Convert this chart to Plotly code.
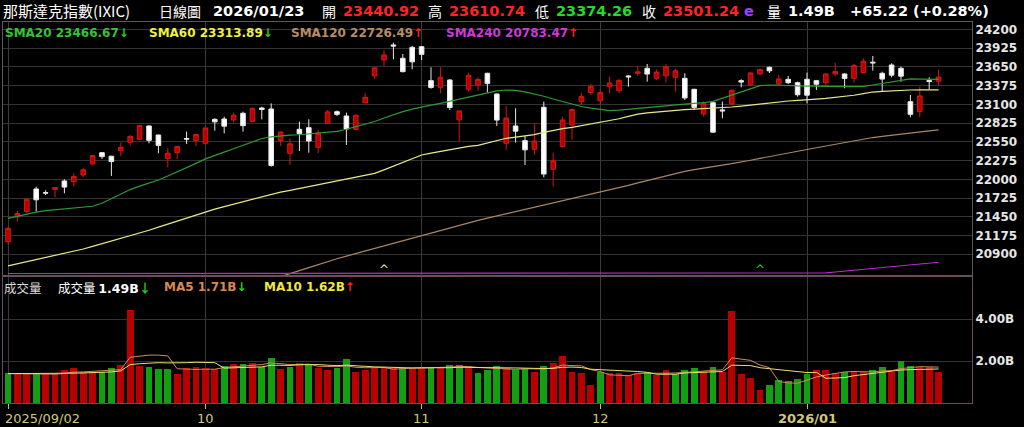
import plotly.graph_objects as go
from plotly.subplots import make_subplots

# ---- 那斯達克指數 日線 2025/09/02 ~ 2026/01/23 (100 個交易日) ----
opens = [21086, 21450, 21526, 21859, 21805, 21850, 21976, 21966, 22064, 22226,
         22392, 22340, 22422, 22544, 22588, 22784, 22651, 22309, 22392, 22600,
         22568, 22529, 22881, 22886, 22872, 22970, 22847, 23048, 23033, 22568,
         22382, 22735, 22759, 22470, 22823, 22994, 22930, 22735, 23126, 23518,
         23752, 23973, 23777, 23938, 23948, 23449, 23351, 23459, 22872, 23322,
         23385, 23557, 23253, 22529, 22784, 22568, 22441, 23058, 22148, 22480,
         22798, 23141, 23273, 23155, 23361, 23302, 23518, 23557, 23630, 23483,
         23518, 23498, 23483, 23322, 22960, 23126, 23020, 23107, 23449, 23385,
         23547, 23645, 23400, 23469, 23420, 23469, 23449, 23420, 23547, 23547,
         23483, 23567, 23720, 23557, 23679, 23630, 23141, 22994, 23450, 23440.92]
highs = [21306, 21540, 21720, 21893, 21840, 21880, 22001, 22090, 22170, 22360,
         22402, 22345, 22539, 22650, 22800, 22790, 22655, 22456, 22490, 22700,
         22665, 22760, 22896, 22920, 22980, 22994, 23050, 23067, 23116, 22700,
         22600, 22847, 22881, 22725, 23020, 23010, 22979, 22950, 23263, 23645,
         23899, 24007, 23840, 23958, 23958, 23645, 23645, 23470, 23010, 23566,
         23498, 23565, 23260, 23077, 23043, 22637, 22823, 23141, 22392, 22920,
         23043, 23273, 23400, 23322, 23508, 23470, 23530, 23664, 23694, 23615,
         23694, 23620, 23557, 23330, 23141, 23130, 23141, 23320, 23469, 23575,
         23625, 23655, 23532, 23518, 23435, 23567, 23460, 23557, 23713, 23557,
         23694, 23777, 23811, 23581, 23704, 23655, 23239, 23361, 23498, 23610.74]
lows = [21051, 21380, 21500, 21526, 21770, 21737, 21795, 21893, 22030, 22220,
        22300, 22050, 22343, 22490, 22580, 22529, 22382, 22177, 22294, 22520,
        22490, 22520, 22715, 22676, 22833, 22700, 22840, 22881, 22187, 22490,
        22211, 22417, 22392, 22382, 22820, 22930, 22505, 22720, 23116, 23469,
        23664, 23762, 23570, 23615, 23752, 23330, 23263, 23018, 22554, 23288,
        23302, 23273, 22784, 22431, 22539, 22211, 22358, 22030, 21893, 22470,
        22578, 23092, 23240, 23092, 23263, 23263, 23361, 23518, 23434, 23460,
        23420, 23288, 23165, 23020, 22921, 22680, 22896, 23100, 23351, 23370,
        23530, 23560, 23385, 23400, 23214, 23116, 23312, 23371, 23518, 23337,
        23420, 23557, 23596, 23288, 23498, 23434, 22911, 22911, 23322, 23374.26]
closes = [21280, 21498, 21708, 21700, 21799, 21879, 21886, 22043, 22141, 22349,
          22334, 22261, 22471, 22631, 22789, 22573, 22498, 22385, 22484, 22591,
          22660, 22755, 22844, 22781, 22942, 22788, 23043, 23025, 22204, 22695,
          22522, 22670, 22563, 22680, 22991, 22954, 22740, 22942, 23205, 23637,
          23827, 23958, 23581, 23725, 23835, 23349, 23500, 23054, 23005, 23527,
          23468, 23406, 22870, 22901, 22708, 22433, 22564, 22078, 22273, 22872,
          23026, 23215, 23366, 23276, 23414, 23454, 23505, 23578, 23546, 23576,
          23654, 23594, 23195, 23057, 23111, 22693, 23006, 23308, 23429, 23562,
          23613, 23593, 23474, 23419, 23242, 23236, 23396, 23547, 23584, 23480,
          23671, 23734, 23710, 23472, 23530, 23515, 22954, 23225, 23436.02, 23501.24]

sma20 = [21428, 21460, 21490, 21520, 21540, 21555, 21570, 21580, 21590, 21605,
         21650, 21720, 21790, 21850, 21900, 21945, 21990, 22050, 22110, 22165,
         22235, 22300, 22355, 22400, 22450, 22500, 22550, 22600, 22625, 22640,
         22648, 22655, 22665, 22680, 22690, 22705, 22735, 22770, 22810, 22850,
         22900, 22950, 22995, 23030, 23065, 23090, 23115, 23145, 23175, 23210,
         23240, 23270, 23300, 23312, 23305, 23285, 23255, 23220, 23180, 23140,
         23100, 23070, 23045, 23025, 23010, 23015, 23030, 23045, 23060, 23070,
         23080, 23092, 23100, 23110, 23125, 23145, 23190, 23240, 23290, 23335,
         23375, 23385, 23385, 23378, 23372, 23368, 23365, 23362, 23360, 23360,
         23362, 23365, 23385, 23410, 23435, 23460, 23475, 23472, 23468, 23466.67]
sma60 = [20729, 20760, 20790, 20820, 20850, 20880, 20910, 20940, 20978, 21016,
         21054, 21092, 21130, 21170, 21208, 21253, 21298, 21343, 21390, 21435,
         21480, 21526, 21563, 21600, 21637, 21674, 21711, 21748, 21785, 21812,
         21839, 21866, 21893, 21920, 21947, 21974, 22001, 22030, 22060, 22089,
         22140, 22195, 22250, 22305, 22358, 22385, 22412, 22438, 22462, 22485,
         22500, 22535, 22570, 22603, 22620, 22640, 22658, 22690, 22720, 22745,
         22764, 22788, 22810, 22832, 22855, 22890, 22925, 22958, 22975, 22990,
         23005, 23016, 23025, 23032, 23038, 23043, 23052, 23062, 23075, 23090,
         23105, 23122, 23140, 23150, 23158, 23165, 23178, 23190, 23203, 23215,
         23235, 23258, 23282, 23293, 23302, 23310, 23312, 23313, 23313, 23313.89]
sma120 = [None] * 28 + [
         20530, 20570, 20615, 20660, 20705, 20750, 20795, 20835, 20873, 20911,
         20949, 20987, 21025, 21063, 21100, 21138, 21176, 21214, 21252, 21290,
         21328, 21365, 21398, 21430, 21462, 21494, 21526, 21558, 21590, 21621,
         21652, 21683, 21714, 21745, 21776, 21807, 21840, 21876, 21912, 21948,
         21984, 22020, 22056, 22092, 22118, 22143, 22168, 22190, 22210, 22230,
         22252, 22280, 22308, 22336, 22360, 22386, 22412, 22438, 22464, 22490,
         22518, 22546, 22570, 22592, 22614, 22632, 22650, 22668, 22686, 22699,
         22712, 22726.49]
# SMA240 在畫面底部被壓在下緣，直到 1 月初才出現
sma240 = [20618] * 86 + [20620, 20626, 20640, 20653, 20666, 20679, 20692,
                         20705, 20718, 20731, 20744, 20757, 20770, 20783.47]

volumes = [1.44, 1.36, 1.36, 1.41, 1.36, 1.36, 1.55, 1.65, 1.49, 1.49,
           1.49, 1.65, 1.81, 4.45, 1.78, 1.73, 1.62, 1.62, 1.39, 1.65,
           1.73, 1.65, 1.62, 1.78, 1.86, 1.86, 1.92, 1.73, 2.16, 1.62,
           1.73, 1.89, 1.84, 1.68, 1.57, 1.68, 2.08, 1.49, 1.57, 1.68,
           1.65, 1.68, 1.65, 1.65, 1.68, 1.68, 1.73, 1.81, 1.81, 1.68,
           1.44, 1.57, 1.76, 1.65, 1.57, 1.60, 1.49, 1.78, 1.92, 2.24,
           1.49, 1.44, 0.88, 1.46, 1.41, 1.44, 1.33, 1.41, 1.46, 1.33,
           1.57, 1.36, 1.57, 1.65, 1.49, 1.70, 1.49, 4.40, 1.36, 1.20,
           0.61, 0.85, 1.09, 1.04, 1.12, 1.36, 1.57, 1.57, 1.44, 1.46,
           1.46, 1.46, 1.57, 1.70, 1.49, 2.00, 1.76, 1.73, 1.73, 1.49]
# r = 上漲(紅), g = 下跌(綠)
vol_dir = ("grrgrrrrrr" "ggrrrgggrr" "rrrgrgrggr" "grgrrggrrr" "rrgrrgrggr"
           "gggrggrgrr" "rrrgrrrrgr" "rgggrgrrrr" "rgggggrrrg" "rrggrggrrr")
vol_ma5 = [1.40, 1.39, 1.38, 1.39, 1.39, 1.37, 1.41, 1.47, 1.48, 1.51,
           1.53, 1.55, 1.59, 2.18, 2.24, 2.28, 2.28, 2.24, 1.63, 1.60,
           1.60, 1.61, 1.61, 1.69, 1.73, 1.75, 1.81, 1.83, 1.91, 1.86,
           1.83, 1.83, 1.85, 1.75, 1.74, 1.73, 1.77, 1.70, 1.68, 1.70,
           1.69, 1.61, 1.65, 1.66, 1.66, 1.67, 1.68, 1.71, 1.74, 1.74,
           1.69, 1.66, 1.65, 1.62, 1.60, 1.63, 1.61, 1.62, 1.67, 1.81,
           1.78, 1.77, 1.59, 1.50, 1.34, 1.33, 1.30, 1.41, 1.41, 1.39,
           1.42, 1.43, 1.46, 1.50, 1.53, 1.55, 1.58, 2.15, 2.09, 2.03,
           1.81, 1.68, 1.02, 0.96, 0.94, 1.09, 1.24, 1.33, 1.41, 1.48,
           1.50, 1.48, 1.48, 1.53, 1.54, 1.64, 1.70, 1.73, 1.72, 1.71]
vol_ma10 = [1.40, 1.40, 1.39, 1.39, 1.39, 1.39, 1.40, 1.42, 1.43, 1.45,
            1.45, 1.48, 1.53, 1.83, 1.87, 1.91, 1.92, 1.91, 1.90, 1.92,
            1.94, 1.94, 1.92, 1.66, 1.67, 1.68, 1.71, 1.72, 1.80, 1.79,
            1.79, 1.82, 1.84, 1.83, 1.80, 1.78, 1.80, 1.77, 1.72, 1.72,
            1.71, 1.69, 1.67, 1.67, 1.68, 1.68, 1.65, 1.68, 1.70, 1.70,
            1.68, 1.67, 1.68, 1.68, 1.67, 1.66, 1.64, 1.64, 1.65, 1.70,
            1.71, 1.69, 1.61, 1.59, 1.57, 1.56, 1.54, 1.50, 1.46, 1.37,
            1.37, 1.37, 1.43, 1.45, 1.46, 1.49, 1.50, 1.80, 1.79, 1.78,
            1.68, 1.63, 1.58, 1.52, 1.49, 1.45, 1.46, 1.18, 1.19, 1.21,
            1.30, 1.36, 1.41, 1.47, 1.51, 1.57, 1.59, 1.61, 1.63, 1.62]

month_idx = [0, 21, 44, 63, 85]
month_text = ["2025/09/02", "10", "11", "12", "2026/01"]
price_ticks = [20900, 21175, 21450, 21725, 22000, 22275, 22550, 22825,
               23100, 23375, 23650, 23925, 24200]
vol_ticks = [2, 4]
# 扣抵位置 (SMA60, SMA20)
deduct_idx = [40, 80]

# ---- 版面 ----
W, H = 1024, 427
ML, MR, MT, MB = 3, 52, 22, 24
PW, PH = W - ML - MR, H - MT - MB
STEP, X0 = 9.4, 8          # 每根 K 棒的 px 間距, 第一根的 px 位置

RED, WHITE, GREEN = "#b80000", "#ffffff", "#12a012"
FONT = "DejaVu Sans"
CJK = "Noto Sans CJK TC"


def px(x):
    return (x - ML) / PW


def py(y):
    return (H - MB - y) / PH


n = len(closes)
idx = list(range(n))

fig = make_subplots(rows=2, cols=1, shared_xaxes=True)

fig.add_trace(go.Candlestick(
    x=idx, open=opens, high=highs, low=lows, close=closes,
    increasing=dict(line=dict(color="#d01818", width=1), fillcolor=RED),
    decreasing=dict(line=dict(color="#e8e8e8", width=1), fillcolor=WHITE),
    whiskerwidth=0, hoverinfo="skip", showlegend=False,
), row=1, col=1)

ma_styles = [(sma20, "#2f9a35"), (sma60, "#e8e88c"),
             (sma120, "#a88666"), (sma240, "#b030c8")]
for vals, color in ma_styles:
    fig.add_scatter(x=idx, y=vals, mode="lines", line=dict(color=color, width=1.2),
                    hoverinfo="skip", showlegend=False, row=1, col=1)

fig.add_bar(x=idx, y=volumes, width=0.74,
            marker=dict(color=[RED if d == "r" else GREEN for d in vol_dir], line_width=0),
            hoverinfo="skip", showlegend=False, row=2, col=1)
fig.add_scatter(x=idx, y=vol_ma5, mode="lines", line=dict(color="#d08a58", width=1),
                hoverinfo="skip", showlegend=False, row=2, col=1)
fig.add_scatter(x=idx, y=vol_ma10, mode="lines", line=dict(color="#e8e070", width=1),
                hoverinfo="skip", showlegend=False, row=2, col=1)

x_range = [(ML - X0) / STEP, (ML + PW - X0) / STEP]
grid = "#333333"

fig.update_xaxes(range=x_range, tickvals=month_idx, showticklabels=False,
                 showgrid=True, gridcolor="#3a3a3a", gridwidth=1, zeroline=False,
                 rangeslider_visible=False)
fig.update_xaxes(showline=True, mirror=True, linecolor="#5a5a5a", row=1, col=1)
fig.update_xaxes(showline=True, mirror=True, linecolor="#6c4a60",
                 ticks="outside", ticklen=5, tickcolor="#c8c07a", row=2, col=1)

tickfont = dict(family=FONT, size=12, color="#e6e6e6", weight="bold")
fig.update_yaxes(side="right", range=[20596, 24310], tickvals=price_ticks,
                 ticktext=[str(v) for v in price_ticks],
                 showgrid=True, gridcolor=grid, zeroline=False, tickfont=tickfont,
                 showline=True, mirror=True, linecolor="#5a5a5a",
                 domain=[py(275), 1], row=1, col=1)
fig.update_yaxes(side="right", range=[0, 6.0], tickvals=vol_ticks,
                 ticktext=[f"{v:.2f}B" for v in vol_ticks],
                 showgrid=True, gridcolor=grid, zeroline=False, tickfont=tickfont,
                 showline=True, mirror=True, linecolor="#6c4a60",
                 domain=[0, py(277)], row=2, col=1)

ann = []


def txt(x, y, text, size, color="#ffffff", family=FONT, anchor="left"):
    ann.append(dict(x=px(x), y=py(y), xref="paper", yref="paper", text=text,
                    showarrow=False, xanchor=anchor, yanchor="middle",
                    font=dict(family=family, size=size, color=color)))


UP = '<span style="color:#ff2020"><b>↑</b></span>'
DN = '<span style="color:#22cc22"><b>↓</b></span>'

# 標題列
chg = closes[-1] - closes[-2]
header = [
    (1, "那斯達克指數(IXIC)", 15, "#ffffff", CJK),
    (157, "日線圖", 14, "#ffffff", CJK),
    (211, "<b>2026/01/23</b>", 14.5, "#ffffff", FONT),
    (320, "開", 14, "#ffffff", CJK),
    (341, f"<b>{opens[-1]:.2f}</b>", 14.5, "#ff2424", FONT),
    (426, "高", 14, "#ffffff", CJK),
    (447, f"<b>{highs[-1]:.2f}</b>", 14.5, "#ff2424", FONT),
    (533, "低", 14, "#ffffff", CJK),
    (554, f"<b>{lows[-1]:.2f}</b>", 14.5, "#22dd22", FONT),
    (640, "收", 14, "#ffffff", CJK),
    (661, f"<b>{closes[-1]:.2f}</b>", 14.5, "#ff2424", FONT),
    (742, "<b>e</b>", 14.5, "#a040ff", FONT),
    (765, "量", 14, "#ffffff", CJK),
    (786, f"<b>{volumes[-1]:.2f}B</b>", 14.5, "#ffffff", FONT),
    (848, f"<b>{chg:+.2f} ({chg / closes[-2] * 100:+.2f}%)</b>", 14.5, "#ffffff", FONT),
]
for x, t, s, c, f in header:
    txt(x, 11, t, s, c, f)

# 均線圖例
legend = [
    (3, "SMA20", sma20, "#33c433", DN),
    (147, "SMA60", sma60, "#f0f040", DN),
    (289, "SMA120", sma120, "#b88c66", UP),
    (444, "SMA240", sma240, "#cc3ad8", UP),
]
for x, name, vals, c, arrow in legend:
    txt(x, 33, f"<b>{name} {vals[-1]:.2f}</b>{arrow}", 12, c)

# 成交量圖例
txt(2, 287, "成交量", 12.5, "#d8d8d8", CJK)
txt(56, 287, f'成交量 <span style="font-family:{FONT}"><b>{volumes[-1]:.2f}B</b></span>{DN}',
    12.5, "#ffffff", CJK)
txt(162, 287, f"<b>MA5 {vol_ma5[-1]:.2f}B</b>{DN}", 12, "#d88850")
txt(262, 287, f"<b>MA10 {vol_ma10[-1]:.2f}B</b>{UP}", 12, "#f0e840")

# X 軸月份
for i, t in zip(month_idx, month_text):
    x = X0 + STEP * i
    if i == 0:
        txt(x - 5, 418, t, 13, "#d2c878")
    else:
        txt(x, 418, t if len(t) < 3 else f"<b>{t}</b>", 13, "#d2c878", anchor="center")

# 扣抵標記
for i, c in zip(deduct_idx, ["#e8e8a0", "#33c433"]):
    ann.append(dict(x=i, y=py(270), xref="x", yref="paper", text="^",
                    showarrow=False, yanchor="middle",
                    font=dict(family=FONT, size=12, color=c)))

fig.update_layout(
    width=W, height=H,
    margin=dict(l=ML, r=MR, t=MT, b=MB),
    paper_bgcolor="#000000", plot_bgcolor="#000000",
    font=dict(family=FONT, color="#ffffff"),
    showlegend=False, bargap=0, annotations=ann,
)

# 頁面預設 body margin 會讓圖偏移 8px，這裡歸零；工具列關掉免得蓋住標題
fig.write_html("out.html",
               config={"displayModeBar": False},
               post_script="document.body.style.margin='0';"
                           "document.body.style.overflow='hidden';")
